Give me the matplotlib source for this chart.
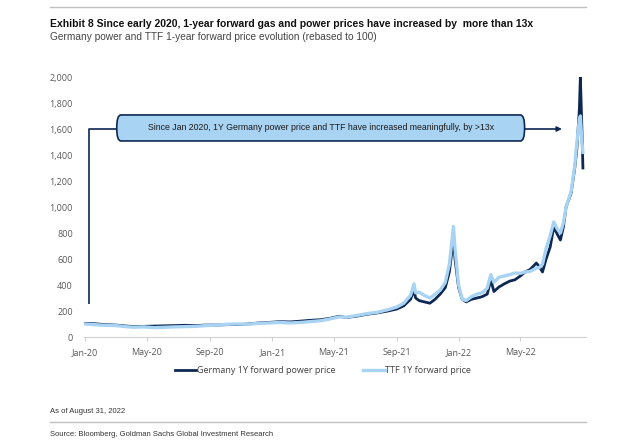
import matplotlib.pyplot as plt
import matplotlib.dates as mdates
from matplotlib.patches import FancyBboxPatch
import numpy as np
import pandas as pd

# (rebased to 100)
dates = pd.to_datetime([
    "2020-01-02", "2020-01-20", "2020-02-10", "2020-03-01", "2020-03-20", "2020-04-05",
    "2020-04-25", "2020-05-15", "2020-06-05", "2020-06-25", "2020-07-15", "2020-08-05",
    "2020-08-25", "2020-09-15", "2020-10-05", "2020-10-25", "2020-11-15", "2020-12-05",
    "2020-12-25", "2021-01-15", "2021-02-05", "2021-02-25", "2021-03-15", "2021-04-05",
    "2021-04-25", "2021-05-12", "2021-05-25", "2021-06-15", "2021-07-05", "2021-07-25",
    "2021-08-15", "2021-09-01", "2021-09-15", "2021-09-28", "2021-10-05", "2021-10-08",
    "2021-10-15", "2021-10-25", "2021-11-05", "2021-11-15", "2021-11-25", "2021-12-05",
    "2021-12-13", "2021-12-21", "2021-12-24", "2021-12-31", "2022-01-07", "2022-01-15",
    "2022-01-25", "2022-02-05", "2022-02-15", "2022-02-25", "2022-03-04", "2022-03-10",
    "2022-03-20", "2022-03-31", "2022-04-10", "2022-04-20", "2022-05-01", "2022-05-10",
    "2022-05-20", "2022-06-01", "2022-06-07", "2022-06-13", "2022-06-20", "2022-06-28",
    "2022-07-05", "2022-07-12", "2022-07-18", "2022-07-24", "2022-07-29", "2022-08-08",
    "2022-08-15", "2022-08-19", "2022-08-24", "2022-08-26", "2022-08-29", "2022-08-31",
])

power = [
    105, 102, 95, 92, 85, 80, 82, 84, 86, 88, 90, 88,
    92, 92, 95, 96, 100, 108, 112, 118, 116, 122, 128, 133,
    145, 160, 150, 160, 175, 185, 200, 215, 240, 290, 360, 300,
    280, 270, 260, 290, 330, 380, 500, 760, 600, 380, 290, 270,
    290, 300, 310, 330, 440, 350, 385, 410, 430, 440, 470, 500,
    520, 569, 540, 500, 600, 692, 846, 790, 746, 850, 1000, 1108,
    1300, 1438, 1750, 2000, 1600, 1300,
]

ttf = [
    100, 95, 90, 88, 80, 75, 78, 72, 75, 78, 80, 82,
    88, 92, 98, 100, 98, 105, 108, 112, 108, 112, 118, 125,
    140, 155, 152, 165, 180, 190, 210, 230, 260, 320, 408, 340,
    345, 320, 300, 330, 360, 420, 560, 850, 680, 400, 290, 280,
    310, 330, 340, 376, 480, 420, 460, 470, 480, 492, 490, 500,
    505, 530, 535, 560, 680, 780, 885, 830, 800, 880, 1000, 1120,
    1320, 1490, 1670, 1700, 1500, 1420,
]

tick_dates = pd.date_range("2020-01-01", "2022-05-01", freq="4MS")

navy = "#0c2853"
light = "#a9d3f2"
grey = "#595959"
sans = ["Liberation Sans", "DejaVu Sans"]

fig = plt.figure(figsize=(6.4, 4.44), dpi=100)
ax = fig.add_axes([84 / 640, 1 - 337 / 444, 502 / 640, 260 / 444])

ax.plot(dates, power, color=navy, lw=2.0, label="Germany 1Y forward power price")
ax.plot(dates, ttf, color=light, lw=2.4, label="TTF 1Y forward price")

ax.set_ylim(0, 2000)
ax.set_xlim(pd.Timestamp("2019-12-30"), pd.Timestamp("2022-09-06"))
ax.set_yticks(np.arange(0, 2001, 200))
ax.yaxis.set_major_formatter(plt.FuncFormatter(lambda v, p: f"{int(v):,}"))
ax.set_xticks(tick_dates)
ax.xaxis.set_major_formatter(mdates.DateFormatter("%b-%y"))
for s in ["top", "right", "left"]:
    ax.spines[s].set_visible(False)
ax.spines["bottom"].set_color("#d0d0d0")
ax.tick_params(axis="y", length=0, labelsize=6.5, labelcolor=grey, pad=8)
ax.tick_params(axis="x", length=3, color="#d0d0d0", labelsize=6.5, labelcolor=grey, pad=5)
for lab in ax.get_xticklabels() + ax.get_yticklabels():
    lab.set_family(["Open Sans", "DejaVu Sans"])

# annotation bracket, box and arrow
x_left = pd.Timestamp("2020-01-09")
box_l = pd.Timestamp("2020-03-03")
box_r = pd.Timestamp("2022-05-09")
arrow_end = pd.Timestamp("2022-07-21")
ax.plot([x_left, x_left, box_l], [254, 1600, 1600], color=navy, lw=1.2, solid_capstyle="butt")
bl, br = mdates.date2num(box_l), mdates.date2num(box_r)
box = FancyBboxPatch((bl, 1508), br - bl, 200, boxstyle="round,pad=0,rounding_size=8",
                     mutation_aspect=200 / 8 * 0.5, facecolor=light, edgecolor=navy, lw=1.2)
ax.add_patch(box)
ax.text((bl + br) / 2, 1608, "Since Jan 2020, 1Y Germany power price and TTF have increased meaningfully, by >13x",
        ha="center", va="center", fontsize=6.3, color="#1a1a1a", family=sans)
ax.annotate("", xy=(arrow_end, 1600), xytext=(box_r, 1600),
            arrowprops=dict(arrowstyle="-|>", color=navy, lw=1.2, mutation_scale=7, shrinkA=0, shrinkB=0))

leg = fig.legend(loc="upper center", bbox_to_anchor=(323 / 640, 1 - 358 / 444), ncol=2, frameon=False,
                 handlelength=2.4, columnspacing=3.0, handletextpad=0.1,
                 prop={"size": 6.5, "family": ["Open Sans", "DejaVu Sans"]})
for t in leg.get_texts():
    t.set_color("#404040")

# header and footer
fig.add_artist(plt.Line2D([50 / 640, 586 / 640], [1 - 7.5 / 444] * 2, color="#c0c0c0", lw=1))
fig.text(50 / 640, 1 - 24 / 444, "Exhibit 8 Since early 2020, 1-year forward gas and power prices have increased by  more than 13x",
         fontsize=7.5, fontweight="bold", va="center", ha="left", color="#111111", family=sans)
fig.text(50 / 640, 1 - 37 / 444, "Germany power and TTF 1-year forward price evolution (rebased to 100)",
         fontsize=7.3, va="center", ha="left", color="#444444", family=sans)
fig.text(50 / 640, 1 - 411 / 444, "As of August 31, 2022", fontsize=5.5, va="center", ha="left",
         color="#333333", family=sans)
fig.add_artist(plt.Line2D([50 / 640, 586 / 640], [1 - 422 / 444] * 2, color="#c0c0c0", lw=1))
fig.text(50 / 640, 1 - 434 / 444, "Source: Bloomberg, Goldman Sachs Global Investment Research", fontsize=5.5,
         va="center", ha="left", color="#333333", family=sans)

fig.savefig("out.png", dpi=100)
